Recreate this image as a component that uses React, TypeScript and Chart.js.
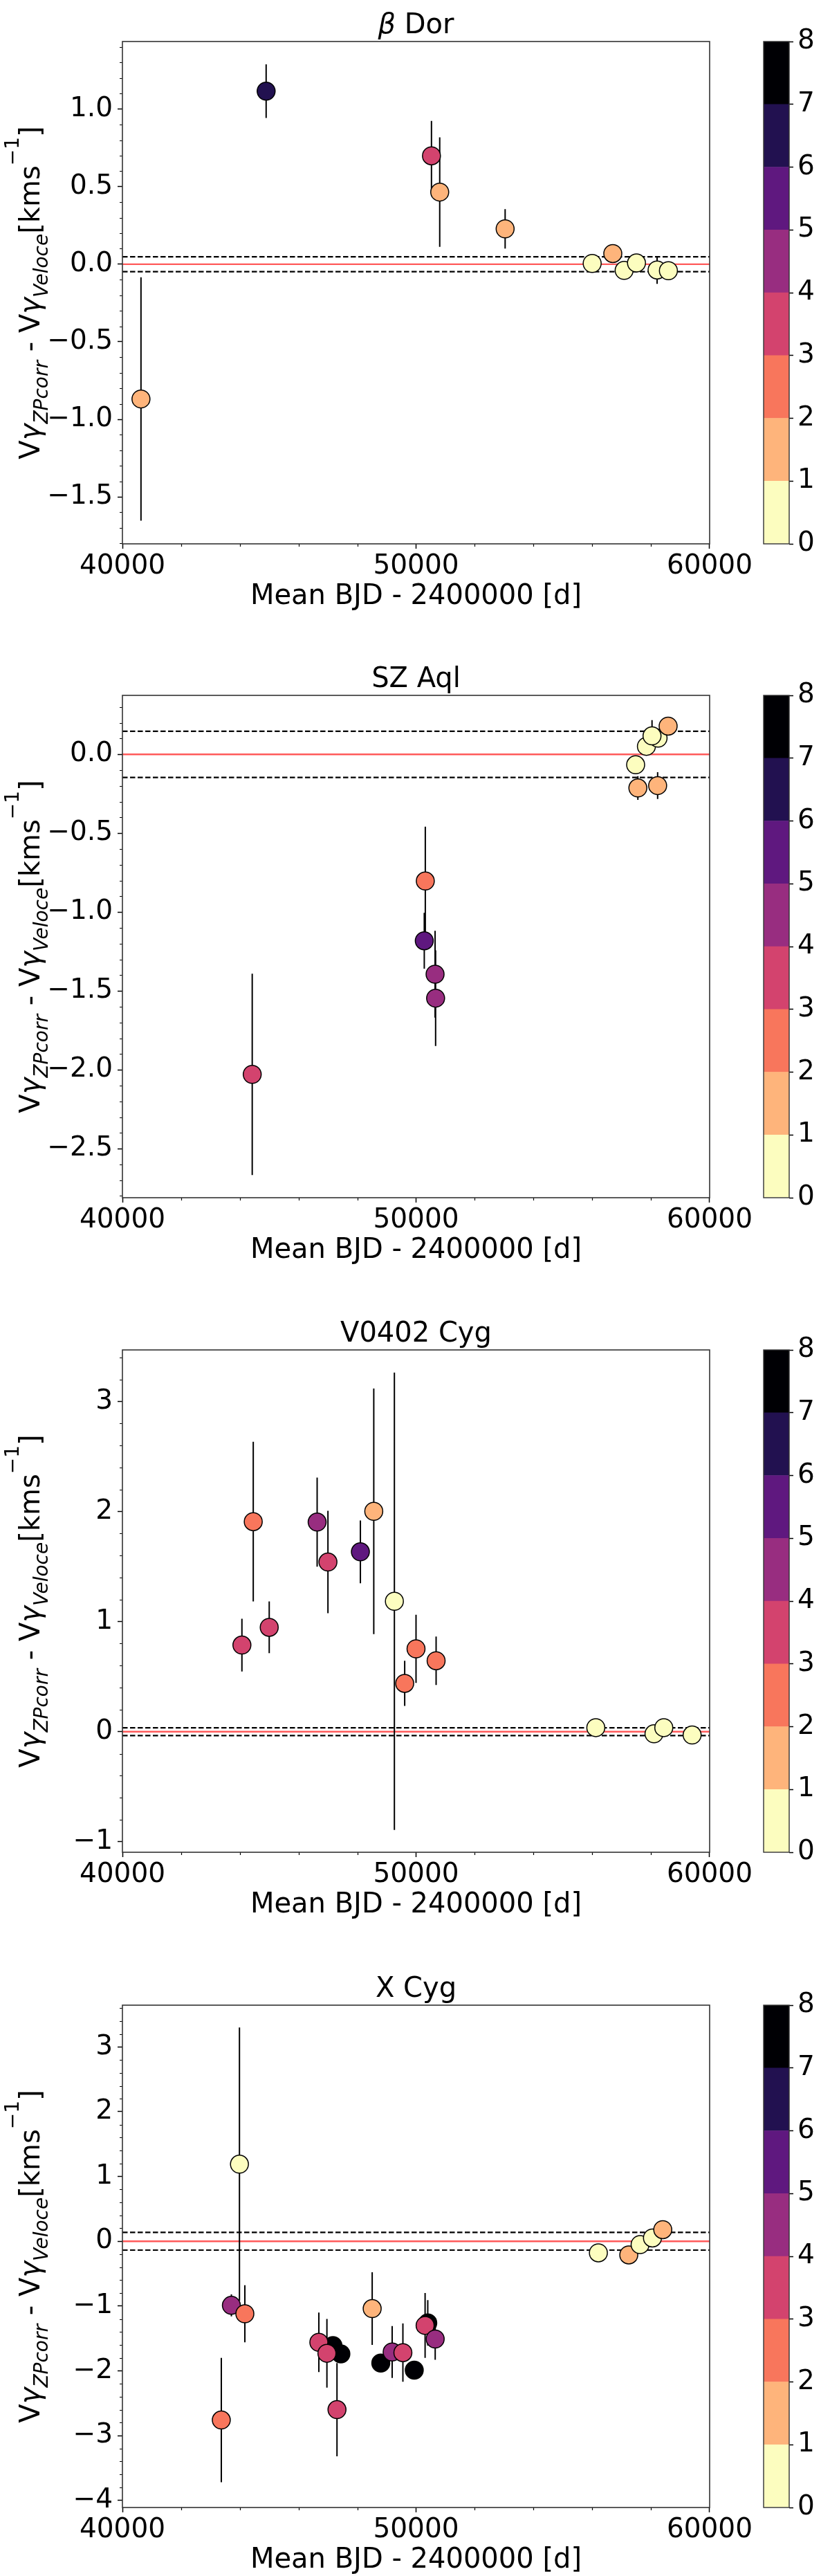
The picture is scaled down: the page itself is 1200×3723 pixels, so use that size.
import React, { useEffect, useRef } from 'react';
import { Chart, registerables } from 'chart.js';

Chart.register(...registerables);

const FONT = '"DejaVu Sans", sans-serif';
Chart.defaults.font.family = FONT;

// colour bins (colorbar 0..8), bottom to top
const BIN_COLORS = ['#fcfdbf', '#feb47b', '#f8765c', '#d3436e', '#982d80', '#5f187f', '#221150', '#000004'];
const CB_TICKS = [0, 1, 2, 3, 4, 5, 6, 7, 8];
const X_TICKS = [40000, 50000, 60000];

// β Dor
const dorX = [40632, 44895, 50526, 50807, 53035, 56000, 56702, 57088, 57509, 58211, 58596];
const dorY = [-0.869, 1.116, 0.699, 0.465, 0.228, 0.005, 0.069, -0.04, 0.008, -0.037, -0.042];
const dorErr = [0.785, 0.173, 0.225, 0.353, 0.127, 0.02, 0.02, 0.02, 0.02, 0.09, 0.02];
const dorBin = [1, 6, 3, 1, 1, 0, 1, 0, 0, 0, 0];
const dorBand = 0.048;
const dorYTicks = [-1.5, -1, -0.5, 0, 0.5, 1];

// SZ Aql
const szX = [44421, 50316, 50281, 50649, 50667, 57480, 57556, 57847, 58244, 58038, 58229, 58587];
const szY = [-2.029, -0.803, -1.182, -1.394, -1.546, -0.066, -0.213, 0.051, 0.103, 0.117, -0.198, 0.179];
const szErr = [0.638, 0.345, 0.177, 0.275, 0.303, 0.03, 0.075, 0.03, 0.03, 0.1, 0.085, 0.03];
const szBin = [3, 2, 5, 4, 4, 0, 1, 0, 0, 0, 1, 1];
const szBand = 0.146;
const szYTicks = [-2.5, -2, -1.5, -1, -0.5, 0];

// V0402 Cyg
const vcX = [44070, 44456, 45000, 46632, 47000, 48105, 48561, 49263, 49614, 50000, 50684, 56123, 58105, 58439, 59404];
const vcY = [0.787, 1.908, 0.948, 1.904, 1.541, 1.634, 2.002, 1.185, 0.439, 0.753, 0.645, 0.037, -0.019, 0.037, -0.03];
const vcErr = [0.24, 0.725, 0.235, 0.405, 0.465, 0.285, 1.115, 2.077, 0.205, 0.31, 0.22, 0.02, 0.02, 0.02, 0.02];
const vcBin = [3, 2, 3, 4, 3, 5, 1, 0, 2, 2, 2, 0, 0, 0, 0];
const vcBand = 0.035;
const vcYTicks = [-1, 0, 1, 2, 3];

// X Cyg
const xcX = [47170, 47440, 48800, 49940, 50400, 43368, 43711, 43986, 44170, 46690, 46965, 47308, 48507, 49187, 49553, 50309, 50653, 56211, 57246, 57632, 58053, 58404];
const xcY = [-1.61, -1.74, -1.88, -1.99, -1.26, -2.76, -0.99, 1.19, -1.12, -1.56, -1.73, -2.6, -1.04, -1.71, -1.72, -1.3, -1.51, -0.179, -0.211, -0.051, 0.051, 0.179];
const xcErr = [0.1, 0.1, 0.1, 0.1, 0.35, 0.96, 0.17, 2.11, 0.44, 0.46, 0.53, 0.72, 0.56, 0.4, 0.45, 0.5, 0.32, 0.03, 0.03, 0.03, 0.03, 0.03];
const xcBin = [7, 7, 7, 7, 7, 2, 4, 0, 2, 3, 3, 3, 1, 4, 3, 3, 4, 0, 1, 0, 0, 1];
const xcBand = 0.137;
const xcYTicks = [-4, -3, -2, -1, 0, 1, 2, 3];

type Panel = {
  greek: string; name: string; x: number[]; y: number[]; err: number[]; bin: number[];
  band: number; yMin: number; yMax: number; yTicks: number[]; yMajor: number; yMinor: number; dec: number;
};

const PANELS: Panel[] = [
  { greek: 'β', name: ' Dor', x: dorX, y: dorY, err: dorErr, bin: dorBin, band: dorBand, yMin: -1.803, yMax: 1.436, yTicks: dorYTicks, yMajor: 0.5, yMinor: 0.1, dec: 1 },
  { greek: '', name: 'SZ Aql', x: szX, y: szY, err: szErr, bin: szBin, band: szBand, yMin: -2.811, yMax: 0.374, yTicks: szYTicks, yMajor: 0.5, yMinor: 0.1, dec: 1 },
  { greek: '', name: 'V0402 Cyg', x: vcX, y: vcY, err: vcErr, bin: vcBin, band: vcBand, yMin: -1.095, yMax: 3.468, yTicks: vcYTicks, yMajor: 1, yMinor: 0.2, dec: 0 },
  { greek: '', name: 'X Cyg', x: xcX, y: xcY, err: xcErr, bin: xcBin, band: xcBand, yMin: -4.111, yMax: 3.645, yTicks: xcYTicks, yMajor: 1, yMinor: 0.2, dec: 0 },
];

const PANEL_TOPS = [0, 945, 1891, 2838];
const PANEL_HEIGHTS = [945, 946, 947, 885];

const X_MIN = 40000;
const X_MAX = 60000;
const X_MINOR = 2000;
const X_MAJOR = 10000;

const PLOT_LEFT = 177;
const PLOT_RIGHT = 1050;
const PLOT_TOP = 60;
const PLOT_BOTTOM = 786;
const MAIN_W = 1090;
const CB_LEFT = 1090;
const CB_W = 110;
const CB_BAR_L = 14;
const CB_BAR_R = 51;
const TICK_FONT = 39;
const LABEL_FONT = 40;

type Seg = { t: string; italic?: boolean; scale?: number; dy?: number };

function segFont(s: Seg, size: number) {
  const px = size * (s.scale ?? 1);
  return `${s.italic ? 'italic ' : ''}${px}px ${FONT}`;
}

function drawRich(ctx: CanvasRenderingContext2D, segs: Seg[], size: number, cx: number, baseY: number) {
  let total = 0;
  const widths = segs.map((s) => {
    ctx.font = segFont(s, size);
    const w = ctx.measureText(s.t).width;
    total += w;
    return w;
  });
  let x = cx - total / 2;
  ctx.textBaseline = 'alphabetic';
  ctx.textAlign = 'left';
  segs.forEach((s, i) => {
    ctx.font = segFont(s, size);
    ctx.fillText(s.t, x, baseY + (s.dy ?? 0) * size);
    x += widths[i];
  });
}

const Y_LABEL: Seg[] = [
  { t: 'V' },
  { t: 'γ', italic: true },
  { t: 'ZPcorr', italic: true, scale: 0.7, dy: 0.3 },
  { t: ' - ' },
  { t: 'V' },
  { t: 'γ', italic: true },
  { t: 'Veloce', italic: true, scale: 0.7, dy: 0.3 },
  { t: '[kms' },
  { t: '−1', scale: 0.7, dy: -0.75 },
  { t: ']' },
];

function fmtY(v: number, dec: number) {
  const s = Math.abs(v) < 1e-9 ? (0).toFixed(dec) : v.toFixed(dec);
  return s.replace('-', '−');
}

function makeMain(canvas: HTMLCanvasElement, p: Panel, H: number) {
  const pts = p.x.map((xv, i) => ({ x: xv, y: p.y[i] }));
  const overlay = {
    id: 'overlay',
    beforeDatasetDraw(chart: any, args: any) {
      if (args.index !== 0) return;
      const { ctx, scales, chartArea } = chart;
      ctx.save();
      ctx.beginPath();
      ctx.rect(chartArea.left, chartArea.top, chartArea.right - chartArea.left, chartArea.bottom - chartArea.top);
      ctx.clip();
      ctx.strokeStyle = '#000';
      ctx.lineWidth = 2;
      ctx.beginPath();
      p.x.forEach((xv, i) => {
        const px = scales.x.getPixelForValue(xv);
        ctx.moveTo(px, scales.y.getPixelForValue(p.y[i] + p.err[i]));
        ctx.lineTo(px, scales.y.getPixelForValue(p.y[i] - p.err[i]));
      });
      ctx.stroke();
      ctx.restore();
    },
    afterDraw(chart: any) {
      const { ctx, scales, chartArea } = chart;
      const { left, right, top, bottom } = chartArea;
      ctx.save();
      // minor ticks
      ctx.strokeStyle = '#000';
      ctx.lineWidth = 1.2;
      ctx.beginPath();
      for (let v = X_MIN; v <= X_MAX; v += X_MINOR) {
        if (v % X_MAJOR === 0) continue;
        const px = Math.round(scales.x.getPixelForValue(v)) + 0.5;
        ctx.moveTo(px, bottom);
        ctx.lineTo(px, bottom + 4);
      }
      const k0 = Math.ceil(p.yMin / p.yMinor - 1e-9);
      const k1 = Math.floor(p.yMax / p.yMinor + 1e-9);
      for (let k = k0; k <= k1; k++) {
        const v = k * p.yMinor;
        const r = v / p.yMajor;
        if (Math.abs(r - Math.round(r)) < 1e-6) continue;
        const py = Math.round(scales.y.getPixelForValue(v)) + 0.5;
        ctx.moveTo(left, py);
        ctx.lineTo(left - 4, py);
      }
      ctx.stroke();
      // frame
      ctx.strokeStyle = '#333';
      ctx.lineWidth = 1.6;
      ctx.strokeRect(left, top, right - left, bottom - top);
      // title
      ctx.fillStyle = '#000';
      const cx = (left + right) / 2;
      const tsegs: Seg[] = p.greek ? [{ t: p.greek, italic: true }, { t: p.name }] : [{ t: p.name }];
      drawRich(ctx, tsegs, LABEL_FONT, cx, 48);
      // x title
      drawRich(ctx, [{ t: 'Mean BJD - 2400000 [d]' }], LABEL_FONT, cx, 873);
      // y title
      ctx.save();
      ctx.translate(57, (top + bottom) / 2);
      ctx.rotate(-Math.PI / 2);
      drawRich(ctx, Y_LABEL, LABEL_FONT, 0, 0);
      ctx.restore();
      ctx.restore();
    },
  };

  return new Chart(canvas, {
    type: 'scatter',
    data: {
      datasets: [
        {
          label: 'points',
          data: pts,
          pointRadius: 13,
          pointHoverRadius: 13,
          pointBorderWidth: 1.5,
          pointBorderColor: '#000',
          pointBackgroundColor: p.bin.map((b) => BIN_COLORS[b]),
          order: 0,
        } as any,
        {
          type: 'line',
          label: 'zero',
          data: [{ x: X_MIN, y: 0 }, { x: X_MAX, y: 0 }],
          borderColor: '#ff5a5a',
          borderWidth: 2.4,
          pointRadius: 0,
          order: 3,
        } as any,
        {
          type: 'line',
          label: 'upper',
          data: [{ x: X_MIN, y: p.band }, { x: X_MAX, y: p.band }],
          borderColor: '#000',
          borderWidth: 2.2,
          borderDash: [7.5, 3.5],
          pointRadius: 0,
          order: 2,
        } as any,
        {
          type: 'line',
          label: 'lower',
          data: [{ x: X_MIN, y: -p.band }, { x: X_MAX, y: -p.band }],
          borderColor: '#000',
          borderWidth: 2.2,
          borderDash: [7.5, 3.5],
          pointRadius: 0,
          order: 2,
        } as any,
      ],
    },
    options: {
      animation: false,
      responsive: false,
      events: [],
      layout: { padding: { left: 0, top: PLOT_TOP, right: MAIN_W - PLOT_RIGHT, bottom: 0 } },
      plugins: { legend: { display: false }, tooltip: { enabled: false }, title: { display: false } },
      scales: {
        x: {
          type: 'linear',
          min: X_MIN,
          max: X_MAX,
          afterBuildTicks: (s: any) => { s.ticks = X_TICKS.map((v) => ({ value: v })); },
          afterFit: (s: any) => { s.height = H - PLOT_BOTTOM; },
          ticks: { font: { size: TICK_FONT, family: FONT }, color: '#000', padding: 2, maxRotation: 0, autoSkip: false, callback: (v: any) => String(v) },
          grid: { drawOnChartArea: false, drawTicks: true, tickLength: 7, tickColor: '#000', tickWidth: 1.5 },
          border: { display: false },
        },
        y: {
          type: 'linear',
          min: p.yMin,
          max: p.yMax,
          afterBuildTicks: (s: any) => { s.ticks = p.yTicks.map((v) => ({ value: v })); },
          afterFit: (s: any) => { s.width = PLOT_LEFT; },
          ticks: { font: { size: TICK_FONT, family: FONT }, color: '#000', padding: 7, autoSkip: false, callback: (v: any) => fmtY(Number(v), p.dec) },
          grid: { drawOnChartArea: false, drawTicks: true, tickLength: 7, tickColor: '#000', tickWidth: 1.5 },
          border: { display: false },
        },
      },
    } as any,
    plugins: [overlay as any],
  });
}

function makeColorbar(canvas: HTMLCanvasElement, H: number) {
  const frame = {
    id: 'cbframe',
    afterDraw(chart: any) {
      const { ctx, chartArea } = chart;
      ctx.save();
      ctx.strokeStyle = '#333';
      ctx.lineWidth = 1.4;
      ctx.strokeRect(chartArea.left, chartArea.top, chartArea.right - chartArea.left, chartArea.bottom - chartArea.top);
      ctx.restore();
    },
  };
  return new Chart(canvas, {
    type: 'bar',
    data: {
      labels: [''],
      datasets: BIN_COLORS.map((c, i) => ({
        label: `bin${i}`,
        data: [CB_TICKS[i + 1] - CB_TICKS[i]],
        backgroundColor: c,
        borderWidth: 0,
        barPercentage: 1,
        categoryPercentage: 1,
      })),
    },
    options: {
      animation: false,
      responsive: false,
      events: [],
      layout: { padding: { left: CB_BAR_L, top: PLOT_TOP, right: 0, bottom: H - PLOT_BOTTOM } },
      plugins: { legend: { display: false }, tooltip: { enabled: false } },
      scales: {
        x: { display: false, stacked: true },
        y: {
          stacked: true,
          position: 'right',
          min: 0,
          max: 8,
          afterBuildTicks: (s: any) => { s.ticks = CB_TICKS.map((v) => ({ value: v })); },
          afterFit: (s: any) => { s.width = CB_W - CB_BAR_R; },
          ticks: { font: { size: TICK_FONT, family: FONT }, color: '#000', padding: 6, autoSkip: false },
          grid: { drawOnChartArea: false, drawTicks: true, tickLength: 6, tickColor: '#000', tickWidth: 1.5 },
          border: { display: false },
        },
      },
    } as any,
    plugins: [frame as any],
  });
}

function PanelView({ p, top, H }: { p: Panel; top: number; H: number }) {
  const mainRef = useRef<HTMLCanvasElement>(null);
  const cbRef = useRef<HTMLCanvasElement>(null);
  useEffect(() => {
    const c1 = makeMain(mainRef.current!, p, H);
    const c2 = makeColorbar(cbRef.current!, H);
    return () => { c1.destroy(); c2.destroy(); };
  }, [p, H]);
  return (
    <>
      <canvas ref={mainRef} width={MAIN_W} height={H} style={{ position: 'absolute', left: 0, top, width: MAIN_W, height: H }} />
      <canvas ref={cbRef} width={CB_W} height={H} style={{ position: 'absolute', left: CB_LEFT, top, width: CB_W, height: H }} />
    </>
  );
}

export default function App() {
  useEffect(() => {
    document.body.style.margin = '0';
    document.body.style.overflow = 'hidden';
    document.body.style.background = '#fff';
  }, []);
  return (
    <div style={{ position: 'relative', width: 1200, height: 3723, background: '#fff', overflow: 'hidden' }}>
      {PANELS.map((p, i) => (
        <PanelView key={i} p={p} top={PANEL_TOPS[i]} H={PANEL_HEIGHTS[i]} />
      ))}
    </div>
  );
}
